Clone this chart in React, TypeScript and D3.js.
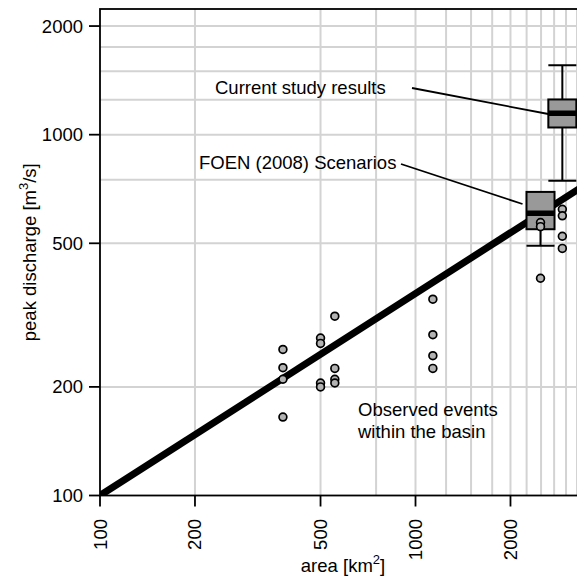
import React, { useEffect, useRef } from "react";
import * as d3 from "d3";

// axes / grid
const xTicks = [100, 200, 500, 1000, 2000];
const yTicks = [100, 200, 500, 1000, 2000];
const xGrid = [200, 500, 750, 1000, 1250, 1500, 1750, 2000, 2250, 2500, 2750, 3000, 3250];
const yGrid = [200, 500, 750, 1000, 1250, 1500, 1750, 2000];

// observed events within the basin (area km2, peak m3/s)
const obsArea = [380, 380, 380, 380, 500, 500, 500, 500, 555, 555, 555, 555, 1135, 1135, 1135, 1135, 2490, 2490, 2490, 2920, 2920, 2920, 2920];
const obsPeak = [254, 226, 210, 165, 273, 264, 205, 200, 314, 225, 210, 205, 350, 279, 244, 225, 571, 556, 400, 621, 596, 523, 484];

// regression line
const lineArea = [100, 3300];
const linePeak = [100, 708];

// boxplots: FOEN (2008) scenarios, current study results
const boxNames = ["FOEN", "Current"];
const boxArea = [2490, 2920];
const boxLow = [492, 745];
const boxQ1 = [547, 1047];
const boxMed = [606, 1147];
const boxQ3 = [694, 1252];
const boxHigh = [694, 1557];

const App = () => {
  const ref = useRef<SVGSVGElement>(null);
  const width = 577;
  const height = 579;
  const font = "'Liberation Sans', Arial, sans-serif";

  useEffect(() => {
    const svg = d3.select(ref.current);
    svg.selectAll("*").remove();

    const x = d3.scaleLog().domain([100, 3300]).range([100, 579.1]);
    const y = d3.scaleLog().domain([100, 2230]).range([495.5, 9]);
    const [x0, x1] = x.range();
    const [yb, yt] = y.range();

    svg
      .append("defs")
      .append("clipPath")
      .attr("id", "plotclip")
      .append("rect")
      .attr("x", x0)
      .attr("y", yt)
      .attr("width", x1 - x0)
      .attr("height", yb - yt);

    const plot = svg.append("g").attr("clip-path", "url(#plotclip)");

    // grid
    plot
      .selectAll(".vg")
      .data(xGrid)
      .join("line")
      .attr("x1", (d) => x(d))
      .attr("x2", (d) => x(d))
      .attr("y1", yt)
      .attr("y2", yb)
      .attr("stroke", "#d3d3d3")
      .attr("stroke-width", 2);
    plot
      .selectAll(".hg")
      .data(yGrid)
      .join("line")
      .attr("x1", x0)
      .attr("x2", x1)
      .attr("y1", (d) => y(d))
      .attr("y2", (d) => y(d))
      .attr("stroke", "#d3d3d3")
      .attr("stroke-width", 2);

    // regression line
    const line = d3
      .line<number>()
      .x((d) => x(d))
      .y((_, i) => y(linePeak[i]));
    plot
      .append("path")
      .attr("d", line(lineArea))
      .attr("fill", "none")
      .attr("stroke", "#000")
      .attr("stroke-width", 7);

    // boxplots
    const hw = 14;
    boxNames.forEach((_, i) => {
      const cx = x(boxArea[i]);
      const g = plot.append("g");
      // whiskers
      g.append("line")
        .attr("x1", cx).attr("x2", cx)
        .attr("y1", y(boxLow[i])).attr("y2", y(boxQ1[i]))
        .attr("stroke", "#000").attr("stroke-width", 2);
      g.append("line")
        .attr("x1", cx).attr("x2", cx)
        .attr("y1", y(boxHigh[i])).attr("y2", y(boxQ3[i]))
        .attr("stroke", "#000").attr("stroke-width", 2);
      [boxLow[i], boxHigh[i]].forEach((v) => {
        g.append("line")
          .attr("x1", cx - hw).attr("x2", cx + hw)
          .attr("y1", y(v)).attr("y2", y(v))
          .attr("stroke", "#000").attr("stroke-width", 2);
      });
      g.append("rect")
        .attr("x", cx - hw)
        .attr("y", y(boxQ3[i]))
        .attr("width", hw * 2)
        .attr("height", y(boxQ1[i]) - y(boxQ3[i]))
        .attr("fill", "#999999")
        .attr("stroke", "#000")
        .attr("stroke-width", 2);
      g.append("line")
        .attr("x1", cx - hw).attr("x2", cx + hw)
        .attr("y1", y(boxMed[i])).attr("y2", y(boxMed[i]))
        .attr("stroke", "#000").attr("stroke-width", 5.5);
    });

    // observed points
    plot
      .selectAll(".pt")
      .data(obsArea)
      .join("circle")
      .attr("cx", (d) => x(d))
      .attr("cy", (_, i) => y(obsPeak[i]))
      .attr("r", 3.9)
      .attr("fill", "#b3b3b3")
      .attr("stroke", "#000")
      .attr("stroke-width", 1.7);

    // frame
    svg
      .append("rect")
      .attr("x", x0)
      .attr("y", yt)
      .attr("width", x1 - x0 + 10)
      .attr("height", yb - yt)
      .attr("fill", "none")
      .attr("stroke", "#000")
      .attr("stroke-width", 1.8);

    // axes
    const xAxis = svg.append("g");
    xAxis
      .selectAll("line")
      .data(xTicks)
      .join("line")
      .attr("x1", (d) => x(d)).attr("x2", (d) => x(d))
      .attr("y1", yb).attr("y2", yb + 11)
      .attr("stroke", "#000").attr("stroke-width", 1.8);
    xAxis
      .selectAll("text")
      .data(xTicks)
      .join("text")
      .attr("transform", (d) => `translate(${x(d)},${519}) rotate(-90)`)
      .attr("text-anchor", "end")
      .attr("dominant-baseline", "central")
      .attr("font-family", font)
      .attr("font-size", 18.5)
      .text((d) => d);

    const yAxis = svg.append("g");
    yAxis
      .selectAll("line")
      .data(yTicks)
      .join("line")
      .attr("x1", x0 - 11).attr("x2", x0)
      .attr("y1", (d) => y(d)).attr("y2", (d) => y(d))
      .attr("stroke", "#000").attr("stroke-width", 1.8);
    yAxis
      .selectAll("text")
      .data(yTicks)
      .join("text")
      .attr("x", 83)
      .attr("y", (d) => y(d))
      .attr("text-anchor", "end")
      .attr("dominant-baseline", "central")
      .attr("font-family", font)
      .attr("font-size", 18.5)
      .text((d) => d);

    // axis titles
    const xt = svg
      .append("text")
      .attr("x", 343)
      .attr("y", 572)
      .attr("text-anchor", "middle")
      .attr("font-family", font)
      .attr("font-size", 18.5);
    xt.append("tspan").text("area [km");
    xt.append("tspan").attr("dy", -8).attr("font-size", 13).text("2");
    xt.append("tspan").attr("dy", 8).text("]");

    const yl = svg
      .append("text")
      .attr("transform", `translate(36,${(yb + yt) / 2}) rotate(-90)`)
      .attr("text-anchor", "middle")
      .attr("font-family", font)
      .attr("font-size", 18.5);
    yl.append("tspan").text("peak discharge [m");
    yl.append("tspan").attr("dy", -8).attr("font-size", 13).text("3");
    yl.append("tspan").attr("dy", 8).text("/s]");

    // annotations
    const ann = svg.append("g").attr("font-family", font).attr("font-size", 18.5);
    ann.append("text").attr("x", 215).attr("y", 94).text("Current study results");
    ann.append("text").attr("x", 199).attr("y", 169).text("FOEN (2008) Scenarios");
    ann.append("text").attr("x", 358).attr("y", 416).text("Observed events");
    ann.append("text").attr("x", 358).attr("y", 438).text("within the basin");
    ann.append("line")
      .attr("x1", 412).attr("y1", 88)
      .attr("x2", x(boxArea[1]) - hw).attr("y2", 114)
      .attr("stroke", "#000").attr("stroke-width", 1.8);
    ann.append("line")
      .attr("x1", 401).attr("y1", 164)
      .attr("x2", x(boxArea[0]) - hw - 4).attr("y2", 204)
      .attr("stroke", "#000").attr("stroke-width", 1.8);
  });

  return (
    <svg ref={ref} width={width} height={height} style={{ display: "block", position: "absolute", left: 0, top: 0 }}></svg>
  );
};

export default App;
